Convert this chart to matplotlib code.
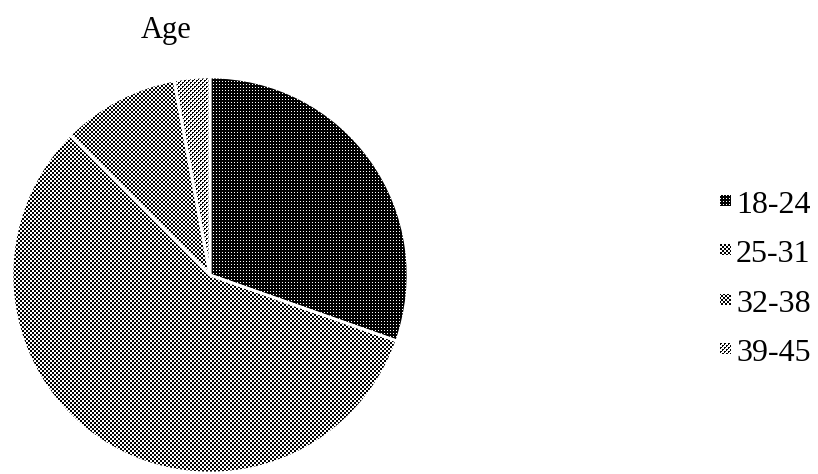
import numpy as np
import matplotlib
matplotlib.use("Agg")
import matplotlib.pyplot as plt

# data
labels = ["18-24", "25-31", "32-38", "39-45"]
shares = [30.4, 57.1, 9.6, 2.9]

W, H = 818, 474


def pattern(kind, h, w):
    # pixel fill patterns like the original (black / white dots)
    yy, xx = np.mgrid[0:h, 0:w]
    if kind == 0:
        black = ~((xx % 3 == 0) & (yy % 3 == 0))
    elif kind == 1:
        black = ((xx // 2 + yy // 2) % 2 == 0)
    elif kind == 2:
        black = (((xx + 1) // 2 + (yy + 1) // 2) % 2 == 0)
    else:
        black = ((xx // 2 + yy // 2) % 2 == 0) & ~((xx % 2 == 1) & (yy % 2 == 1))
    v = np.where(black, 0.0, 1.0)
    return np.dstack([v, v, v])


plt.rcParams["font.family"] = ["Liberation Serif", "DejaVu Serif"]

fig = plt.figure(figsize=(W / 100, H / 100), dpi=100)
ax = fig.add_axes([12 / W, 1 / H, 396 / W, 396 / H])

wedges, _ = ax.pie(shares, startangle=90, counterclock=False, radius=1,
                   wedgeprops=dict(facecolor="none", edgecolor="white", linewidth=2))
ax.set_xlim(-1, 1)
ax.set_ylim(-1, 1)
ax.set_aspect("equal")
ax.patch.set_visible(False)

# fill every wedge with its pixel pattern
for i, w in enumerate(wedges):
    im = fig.figimage(pattern(i, H, W), xo=0, yo=0, zorder=-1)
    im.set_clip_path(w)

# title
fig.text(166 / W, 1 - 38 / H, "Age", ha="center", va="baseline", fontsize=22)

# legend drawn by hand
for i, lab in enumerate(labels):
    base = 213 + 49.3 * i
    top = base - 18
    fig.figimage(pattern(i, 11, 11), xo=720, yo=int(round(H - top - 11)), zorder=2)
    fig.text(736 / W, 1 - base / H, lab, ha="left", va="baseline", fontsize=23)

fig.savefig("out.png", dpi=100)
